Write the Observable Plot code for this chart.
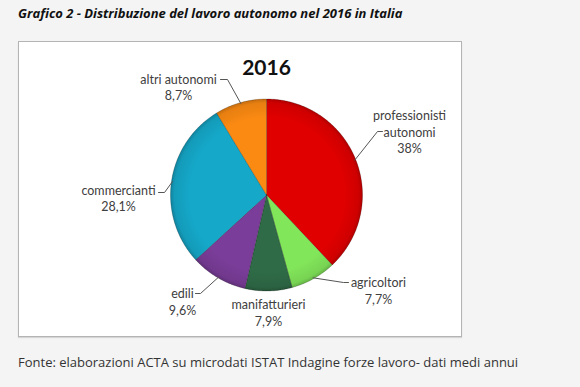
<!DOCTYPE html>
<html>
<head>
<meta charset="utf-8">
<script src="https://cdn.jsdelivr.net/npm/d3@7"></script>
<script src="https://cdn.jsdelivr.net/npm/@observablehq/plot@0.6"></script>
<style>
  html, body { margin: 0; padding: 0; }
  body { width: 580px; height: 387px; background: #f4f4f4; position: relative; overflow: hidden; font-family: "Open Sans", sans-serif; }
  #title { position: absolute; left: 18px; top: 4px; font-size: 13px; font-weight: 700; font-style: italic; color: #111; white-space: nowrap; }
  #box { position: absolute; left: 18px; top: 41px; width: 444px; height: 296px; box-sizing: border-box; background: #fff; border: 1px solid #b4b4b4; box-shadow: 0 1px 1px rgba(0,0,0,0.12); }
  #chart { position: absolute; left: 0; top: 0; }
  #footer { position: absolute; left: 18px; top: 353px; font-size: 13px; color: #333; white-space: nowrap; }
</style>
</head>
<body>
<div id="title">Grafico 2 - Distribuzione del lavoro autonomo nel 2016 in Italia</div>
<div id="box"><div id="chart"></div></div>
<div id="footer">Fonte: elaborazioni ACTA su microdati ISTAT Indagine forze lavoro- dati medi annui</div>
<script>
// ---- data ----
const chartTitle = "2016";
const categories = ["professionisti\nautonomi", "agricoltori", "manifatturieri", "edili", "commercianti", "altri autonomi"];
const shares = [38, 7.7, 7.9, 9.6, 28.1, 8.7];
const shareLabels = ["38%", "7,7%", "7,9%", "9,6%", "28,1%", "8,7%"];

// ---- style / layout ----
const palette = ["#e10000", "#82e65a", "#2f6b47", "#7a3d99", "#15a8c9", "#fb8a12"];
const W = 442, H = 294;
const cx = 247, cy = 152.5, R = 96;
// label block centers and leader anchors, relative to pie center (pixels)
const layout = {
  "professionisti\nautonomi": {lx: 143, ly: -63.5, leader: [[111, -63.5], [116, -63.5]]},
  "agricoltori": {lx: 112, ly: 95, leader: [[77, 87.5], [82, 87.5]]},
  "manifatturieri": {lx: 2, ly: 117, leader: null},
  "edili": {lx: -84, ly: 106, leader: [[-66, 98.5], [-71, 98.5]]},
  "commercianti": {lx: -148, ly: 2.5, leader: [[-102, -2.5], [-108, -2.5]]},
  "altri autonomi": {lx: -88, ly: -108.5, leader: [[-39, -115.5], [-46, -115.5]]}
};

const data = categories.map((c, i) => ({category: c, share: shares[i], label: shareLabels[i]}));
const arcs = d3.pie().sort(null).value(d => d.share).startAngle(0).endAngle(2 * Math.PI)(data);

const px = (a, r) => cx + r * Math.sin(a);
const py = (a, r) => cy - r * Math.cos(a);

// slice outlines
const slicePts = [];
for (const a of arcs) {
  const c = a.data.category;
  slicePts.push({category: c, x: cx, y: cy});
  const n = Math.max(2, Math.ceil((a.endAngle - a.startAngle) / (Math.PI / 360)));
  for (let k = 0; k <= n; k++) {
    const t = a.startAngle + (a.endAngle - a.startAngle) * k / n;
    slicePts.push({category: c, x: px(t, R), y: py(t, R)});
  }
  slicePts.push({category: c, x: cx, y: cy});
}

// leader lines
const leaderPts = [];
for (const a of arcs) {
  const L = layout[a.data.category];
  if (!L.leader) continue;
  const m = (a.startAngle + a.endAngle) / 2;
  leaderPts.push({category: a.data.category, x: px(m, R - 1), y: py(m, R - 1)});
  for (const [dx, dy] of L.leader) leaderPts.push({category: a.data.category, x: cx + dx, y: cy + dy});
}

const labels = arcs.map(a => {
  const L = layout[a.data.category];
  return {text: a.data.category + "\n" + a.data.label, x: cx + L.lx, y: cy + L.ly};
});

const plot = Plot.plot({
  width: W, height: H,
  margin: 0,
  x: {domain: [0, W], range: [0, W], axis: null},
  y: {domain: [0, H], range: [0, H], axis: null},
  color: {domain: categories, range: palette},
  style: {background: "transparent"},
  marks: [
    Plot.line(slicePts, {x: "x", y: "y", z: "category", fill: "category", stroke: "#00000040", strokeWidth: 0.8, curve: "linear"}),
    Plot.dot([{x: cx, y: cy}], {x: "x", y: "y", r: R, fill: "url(#rim)", stroke: "none"}),
    Plot.line(leaderPts, {x: "x", y: "y", z: "category", stroke: "#555", strokeWidth: 1}),
    Plot.text(labels, {x: "x", y: "y", text: "text", fontSize: 12.5, fill: "#404040", lineHeight: 1.33, textAnchor: "middle", lineAnchor: "middle", fontFamily: "Lato, sans-serif"}),
    Plot.text([chartTitle], {x: () => cx, y: () => 26, text: d => d, fontSize: 21, fontWeight: "bold", fill: "#111", fontFamily: "Lato, sans-serif", lineAnchor: "middle"})
  ]
});

const defs = d3.select(plot).insert("defs", ":first-child");
const g = defs.append("radialGradient").attr("id", "rim").attr("cx", "50%").attr("cy", "50%").attr("r", "50%");
g.append("stop").attr("offset", "80%").attr("stop-color", "#000").attr("stop-opacity", 0);
g.append("stop").attr("offset", "96%").attr("stop-color", "#000").attr("stop-opacity", 0.08);
g.append("stop").attr("offset", "100%").attr("stop-color", "#000").attr("stop-opacity", 0.22);

document.getElementById("chart").appendChild(plot);
</script>
</body>
</html>
